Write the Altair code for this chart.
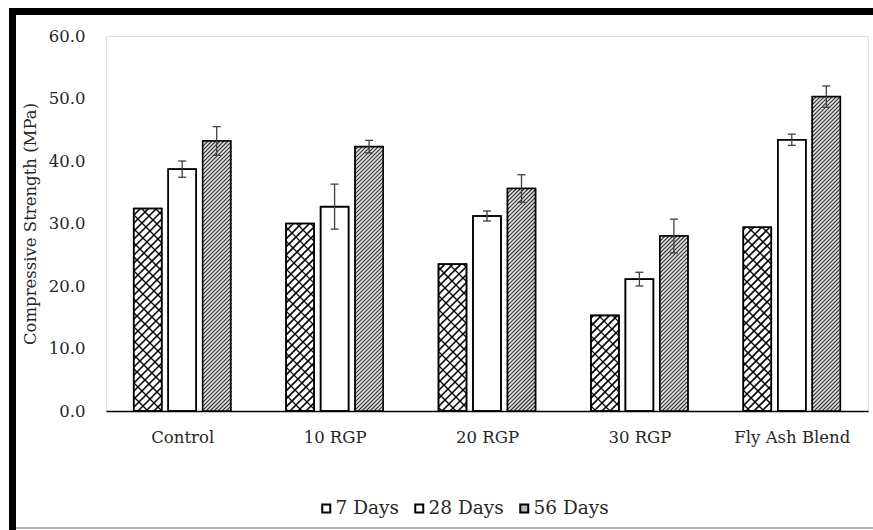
import altair as alt
import numpy as np
import pandas as pd

# ---------------- data ----------------
categories = ["Control", "10 RGP", "20 RGP", "30 RGP", "Fly Ash Blend"]
series = ["7 Days", "28 Days", "56 Days"]
strength_7 = [32.4, 30.0, 23.5, 15.3, 29.4]
strength_28 = [38.7, 32.7, 31.2, 21.1, 43.4]
strength_56 = [43.2, 42.3, 35.6, 28.0, 50.3]
err_7 = [0.0, 0.0, 0.0, 0.0, 0.0]
err_28 = [1.3, 3.6, 0.8, 1.1, 0.9]
err_56 = [2.3, 1.0, 2.2, 2.7, 1.7]
y_ticks = [0, 10, 20, 30, 40, 50, 60]

# ---------------- layout ----------------
W, H = 762, 375
YMAX = 60
N = len(categories)
PXX = W / N          # pixels per category unit
PXY = H / YMAX       # pixels per MPa
BAR_W = 28.0
OFFSET = {"7 Days": -34.5, "28 Days": 0.0, "56 Days": 34.5}
CAP = 4.0
FONT = "DejaVu Serif"
TXT = "#262626"

values = {"7 Days": strength_7, "28 Days": strength_28, "56 Days": strength_56}
errors = {"7 Days": err_7, "28 Days": err_28, "56 Days": err_56}

rows = []
for i, c in enumerate(categories):
    for s in series:
        v = values[s][i]
        e = errors[s][i]
        cx = i + OFFSET[s] / PXX
        rows.append(dict(cat=c, series=s, value=v, base=0.0,
                         x0=cx - BAR_W / 2 / PXX, x1=cx + BAR_W / 2 / PXX,
                         xc=cx, cl=cx - CAP / PXX, cr=cx + CAP / PXX,
                         lo=v - e, hi=v + e, err=e))
bars = pd.DataFrame(rows)
errbars = bars[bars.err > 0]


def hatch(s, period, slope):
    out = []
    for _, r in bars[bars.series == s].iterrows():
        L = (r.x0 + 0.5) * PXX
        w = BAR_W
        h = r.value * PXY
        if slope > 0:
            k0 = int(np.ceil((-w - L) / period))
            k1 = int(np.floor((h - L) / period))
            for k in range(k0, k1 + 1):
                c = L + k * period
                u0, u1 = max(0.0, -c), min(w, h - c)
                if u1 - u0 > 0.3:
                    out.append((u0, u0 + c, u1, u1 + c, L))
        else:
            k0 = int(np.ceil(L / period))
            k1 = int(np.floor((w + h + L) / period))
            for k in range(k0, k1 + 1):
                c = k * period - L
                u0, u1 = max(0.0, c - h), min(w, c)
                if u1 - u0 > 0.3:
                    out.append((u0, c - u0, u1, c - u1, L))
    return pd.DataFrame([dict(hx=(L + a) / PXX - 0.5, hy=b / PXY,
                              hx2=(L + cc) / PXX - 0.5, hy2=d / PXY)
                         for a, b, cc, d, L in out])


h56 = hatch("56 Days", 4.0, 1)
h7a = hatch("7 Days", 8.0, 1)
h7b = hatch("7 Days", 14.0, -1)

# ---------------- scales / axes ----------------
xscale = alt.Scale(domain=[-0.5, N - 0.5], nice=False, zero=False)
yscale = alt.Scale(domain=[0, YMAX], nice=False, zero=True)
label_expr = "[" + ",".join("'" + c + "'" for c in categories) + "][datum.value]"

xaxis = alt.Axis(values=list(range(N)), labelExpr=label_expr, title="",
                 grid=False, ticks=False, tickSize=0, domainColor="black",
                 domainWidth=1.5, labelPadding=18, labelFontSize=16.5,
                 labelColor=TXT, labelFont=FONT, labelAngle=0,
                 labelFlush=False, labelOverlap=False, labelBound=False)
yaxis = alt.Axis(values=y_ticks, format=".1f", title="Compressive Strength (MPa)",
                 grid=False, ticks=False, tickSize=0, domain=False,
                 labelPadding=21, titlePadding=10, labelFontSize=16.5,
                 labelColor=TXT, labelFont=FONT, titleFont=FONT,
                 titleFontSize=16.5, titleFontWeight="normal", titleColor=TXT)

fills = alt.Chart(bars).mark_rect(stroke="black", strokeWidth=1.5).encode(
    x=alt.X("x0:Q", scale=xscale, axis=xaxis),
    x2="x1:Q",
    y=alt.Y("value:Q", scale=yscale, axis=yaxis),
    y2="base:Q",
    fill=alt.Fill("series:N",
                  scale=alt.Scale(domain=series, range=["white", "white", "#bdbdbd"]),
                  legend=alt.Legend(orient="none", legendX=211, legendY=463,
                                    direction="horizontal", title=None,
                                    symbolType="square", symbolSize=64,
                                    symbolStrokeColor="black", symbolStrokeWidth=2,
                                    labelFontSize=18.5, labelFont=FONT, labelColor=TXT,
                                    columnPadding=11, labelOffset=0, padding=0)),
)


def hatch_layer(df, color, width):
    return alt.Chart(df).mark_rule(color=color, strokeWidth=width).encode(
        x=alt.X("hx:Q", scale=xscale, axis=xaxis),
        x2="hx2:Q",
        y=alt.Y("hy:Q", scale=yscale, axis=yaxis),
        y2="hy2:Q",
    )


white_under_56 = alt.Chart(bars[bars.series == "56 Days"]).mark_rect(fill="#e6e6e6").encode(
    x=alt.X("x0:Q", scale=xscale, axis=xaxis),
    x2="x1:Q",
    y=alt.Y("value:Q", scale=yscale, axis=yaxis),
    y2="base:Q",
)

outlines = alt.Chart(bars).mark_rect(stroke="black", strokeWidth=1.6, fillOpacity=0).encode(
    x=alt.X("x0:Q", scale=xscale, axis=xaxis),
    x2="x1:Q",
    y=alt.Y("value:Q", scale=yscale, axis=yaxis),
    y2="base:Q",
)

err_v = alt.Chart(errbars).mark_rule(color="#404040", strokeWidth=1.3).encode(
    x=alt.X("xc:Q", scale=xscale, axis=xaxis),
    y=alt.Y("lo:Q", scale=yscale, axis=yaxis),
    y2="hi:Q",
)
cap_hi = alt.Chart(errbars).mark_rule(color="#404040", strokeWidth=1.3).encode(
    x=alt.X("cl:Q", scale=xscale, axis=xaxis), x2="cr:Q",
    y=alt.Y("hi:Q", scale=yscale, axis=yaxis),
)
cap_lo = alt.Chart(errbars).mark_rule(color="#404040", strokeWidth=1.3).encode(
    x=alt.X("cl:Q", scale=xscale, axis=xaxis), x2="cr:Q",
    y=alt.Y("lo:Q", scale=yscale, axis=yaxis),
)

# decorative outer frame of the figure
dummy = pd.DataFrame({"k": [0]})
frame_top = alt.Chart(dummy).mark_rule(color="black", strokeWidth=7).encode(
    x=alt.value(-97), x2=alt.value(767), y=alt.value(-24.5))
frame_left = alt.Chart(dummy).mark_rule(color="black", strokeWidth=7).encode(
    x=alt.value(-93.5), y=alt.value(-28), y2=alt.value(494))
frame_bottom = alt.Chart(dummy).mark_rule(color="#9a9a9a", strokeWidth=1.5).encode(
    x=alt.value(-90), x2=alt.value(767), y=alt.value(492))

chart = alt.layer(
    fills,
    white_under_56,
    hatch_layer(h56, "#333333", 1.2),
    hatch_layer(h7a, "black", 1.6),
    hatch_layer(h7b, "black", 1.3),
    outlines, err_v, cap_hi, cap_lo,
    frame_top, frame_left, frame_bottom,
).properties(
    width=W, height=H,
    autosize=alt.AutoSizeParams(type="none"),
    padding={"left": 106, "top": 36, "right": 5, "bottom": 119},
    background="white",
).configure_view(stroke="#4d4d4d", strokeWidth=1.5).configure(font=FONT)

chart.save("out.html", embed_options={"renderer": "svg", "actions": False})
